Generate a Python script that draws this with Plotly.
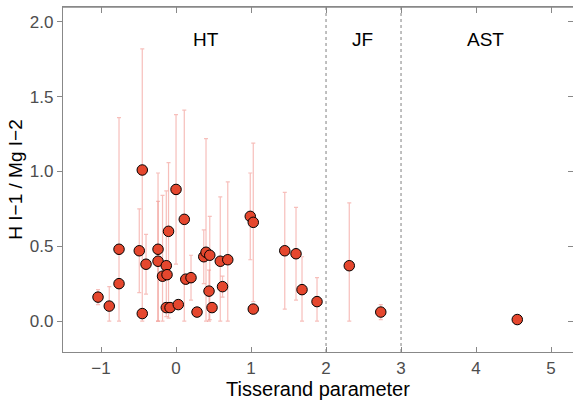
import plotly.graph_objects as go

# Tisserand parameter, ratio, upper and lower error bounds
tj = [-1.04, -0.89, -0.76, -0.76, -0.49, -0.45, -0.45, -0.40, -0.24, -0.24,
      -0.18, -0.13, -0.12, -0.10, -0.13, -0.08, 0.00, 0.03, 0.11, 0.13,
      0.20, 0.28, 0.37, 0.40, 0.45, 0.44, 0.48, 0.59, 0.62, 0.69,
      0.99, 1.03, 1.03, 1.45, 1.60, 1.68, 1.88, 2.31, 2.73, 4.55]
ratio = [0.16, 0.10, 0.25, 0.48, 0.47, 1.01, 0.05, 0.38, 0.48, 0.40,
         0.30, 0.37, 0.31, 0.60, 0.09, 0.09, 0.88, 0.11, 0.68, 0.28,
         0.29, 0.06, 0.43, 0.46, 0.44, 0.20, 0.09, 0.40, 0.23, 0.41,
         0.70, 0.66, 0.08, 0.47, 0.45, 0.21, 0.13, 0.37, 0.06, 0.01]
upper = [0.21, 0.23, 0.25, 1.36, 0.75, 1.82, 0.05, 0.58, 0.99, 0.80,
         0.84, 0.87, 0.31, 1.06, 0.09, 0.09, 1.38, 0.11, 1.41, 0.28,
         0.44, 0.06, 0.61, 1.22, 0.70, 0.34, 0.09, 0.83, 0.30, 0.93,
         0.99, 1.19, 0.08, 0.86, 0.76, 0.43, 0.29, 0.79, 0.11, 0.01]
lower = [0.11, 0.00, 0.25, 0.00, 0.19, 0.00, 0.05, 0.18, 0.00, 0.00,
         0.00, 0.03, 0.31, 0.02, 0.09, 0.09, 0.38, 0.11, 0.00, 0.28,
         0.14, 0.06, 0.25, 0.00, 0.01, 0.00, 0.09, 0.00, 0.16, 0.00,
         0.41, 0.13, 0.08, 0.08, 0.14, 0.00, 0.00, 0.00, 0.01, 0.01]

region_labels = ["HT", "JF", "AST"]
region_x = [0.40, 2.49, 4.13]
region_y = [1.88, 1.88, 1.88]
boundaries = [2, 3]
x_ticks = [-1, 0, 1, 2, 3, 4, 5]
y_ticks = [0, 0.5, 1, 1.5, 2]

err_plus = [u - r for u, r in zip(upper, ratio)]
err_minus = [r - l for r, l in zip(ratio, lower)]

axis_col = "#888888"
font_fam = "Liberation Sans, Arial, sans-serif"
xr = [-1.507, 5.293]
yr = [-0.207, 2.1]

fig = go.Figure()
fig.add_trace(go.Scatter(
    x=tj, y=ratio, mode="markers",
    marker=dict(size=10.5, color="#E5472E", line=dict(color="black", width=1)),
    error_y=dict(type="data", symmetric=False, array=err_plus, arrayminus=err_minus,
                 color="rgba(240,128,120,0.5)", thickness=1.2, width=2),
    showlegend=False,
))
# invisible helper trace for top and right inner ticks
fig.add_trace(go.Scatter(x=[0], y=[0], xaxis="x2", yaxis="y2", mode="markers",
                         marker=dict(opacity=0), showlegend=False, hoverinfo="skip"))

for b in boundaries:
    fig.add_shape(type="line", x0=b, x1=b, y0=0, y1=1, xref="x", yref="paper",
                  line=dict(color="#808080", width=1, dash="3px,3px"))

# top frame line
fig.add_shape(type="line", x0=0, x1=1, y0=1, y1=1, xref="paper", yref="paper",
              layer="above", line=dict(color=axis_col, width=1.5))

for t, xx, yy in zip(region_labels, region_x, region_y):
    fig.add_annotation(x=xx, y=yy, text=t, showarrow=False,
                       font=dict(size=19, color="black", family=font_fam))

fig.update_layout(
    width=573, height=403,
    margin=dict(l=63, r=0, t=7, b=51),
    plot_bgcolor="white", paper_bgcolor="white",
    font=dict(family=font_fam),
    xaxis=dict(range=xr, tickvals=x_ticks,
               ticks="inside", ticklen=5, tickcolor=axis_col, tickwidth=1,
               showline=True, linecolor=axis_col, linewidth=1.3, mirror=True,
               showgrid=False, zeroline=False,
               tickfont=dict(size=17, color="#4d4d4d"),
               title=dict(text="Tisserand parameter", standoff=0,
                          font=dict(size=20, color="black"))),
    xaxis2=dict(overlaying="x", side="top", anchor="y", range=xr, tickvals=x_ticks,
                showticklabels=False, ticks="inside", ticklen=6,
                tickcolor=axis_col, tickwidth=1,
                showline=False, showgrid=False, zeroline=False),
    yaxis=dict(range=yr, tickvals=y_ticks, tickformat=".1f",
               ticks="outside", ticklen=5, tickcolor=axis_col, tickwidth=1,
               showline=True, linecolor=axis_col, linewidth=1.3,
               showgrid=False, zeroline=False,
               tickfont=dict(size=17, color="#4d4d4d"),
               title=dict(text="H I\u22121 / Mg I\u22122", standoff=2,
                          font=dict(size=19, color="black"))),
    yaxis2=dict(overlaying="y", side="right", anchor="x", range=yr, tickvals=y_ticks,
                showticklabels=False, ticks="inside", ticklen=5,
                tickcolor=axis_col, tickwidth=1,
                showline=False, showgrid=False, zeroline=False),
)

fig.write_html("out.html")
